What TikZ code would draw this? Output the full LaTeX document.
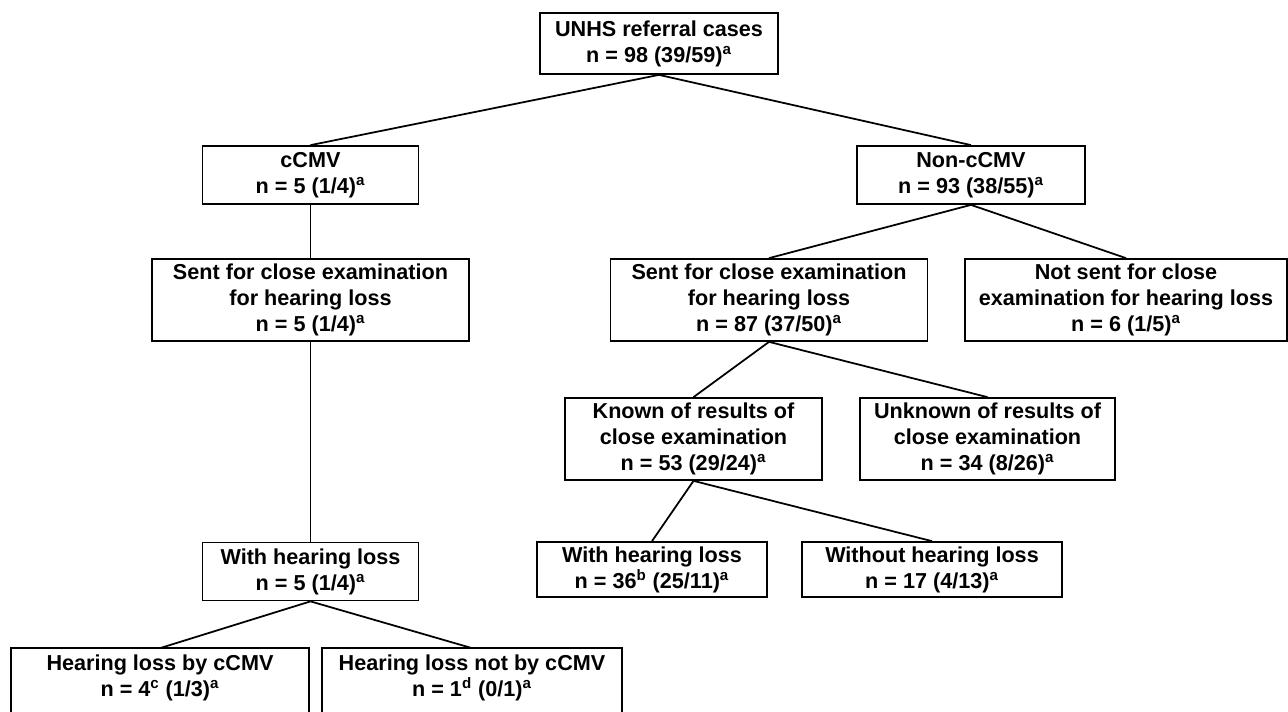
\documentclass[tikz,border=0pt]{standalone}
\usepackage{fontspec}
\setmainfont{Liberation Sans}
\usetikzlibrary{positioning}

\newcommand{\supnote}[1]{\textsuperscript{#1}}

\begin{document}
\begin{tikzpicture}[x=0.02cm, y=-0.02cm,
    box/.style={draw, line width=1pt, align=center, inner sep=0pt,
      font=\bfseries\fontsize{12.3}{14.8}\selectfont},
    leaf/.style={box, draw=none},
    link/.style={line width=1pt}]
    \clip (0,0) rectangle (1288,711);
    % top of the tree
    \node[box, minimum width=4.76cm, minimum height=1.22cm] (root) at (659,43.5)
        {UNHS referral cases\\ n = 98 (39/59)\supnote{a}};
    \node[box, minimum width=4.32cm, minimum height=1.16cm] (cmv) at (310.5,175)
        {cCMV\\ n = 5 (1/4)\supnote{a}};
    \node[box, minimum width=4.56cm, minimum height=1.16cm] (noncmv) at (971,175)
        {Non-cCMV\\ n = 93 (38/55)\supnote{a}};
    % close examination
    \node[box, minimum width=6.34cm, minimum height=1.64cm] (sentL) at (310.5,300)
        {Sent for close examination\\ for hearing loss\\ n = 5 (1/4)\supnote{a}};
    \node[box, minimum width=6.34cm, minimum height=1.64cm] (sentR) at (769,300)
        {Sent for close examination\\ for hearing loss\\ n = 87 (37/50)\supnote{a}};
    \node[box, minimum width=6.44cm, minimum height=1.64cm] (notsent) at (1126,300)
        {Not sent for close\\ examination for hearing loss\\ n = 6 (1/5)\supnote{a}};
    \node[box, minimum width=5.14cm, minimum height=1.64cm] (known) at (693.5,439)
        {Known of results of\\ close examination\\ n = 53 (29/24)\supnote{a}};
    \node[box, minimum width=5.10cm, minimum height=1.64cm] (unknown) at (987.5,439)
        {Unknown of results of\\ close examination\\ n = 34 (8/26)\supnote{a}};
    % hearing loss
    \node[box, minimum width=4.32cm, minimum height=1.16cm] (withL) at (310.5,571.5)
        {With hearing loss\\ n = 5 (1/4)\supnote{a}};
    \node[box, minimum width=4.60cm, minimum height=1.10cm] (withR) at (652,569.5)
        {With hearing loss\\ n = 36\supnote{b} (25/11)\supnote{a}};
    \node[box, minimum width=5.20cm, minimum height=1.10cm] (without) at (932,569.5)
        {Without hearing loss\\ n = 17 (4/13)\supnote{a}};
    \node[leaf, minimum width=5.94cm, minimum height=1.16cm] (bycmv) at (160,678)
        {Hearing loss by cCMV\\ n = 4\supnote{c} (1/3)\supnote{a}};
    \node[leaf, minimum width=5.96cm, minimum height=1.16cm] (notbycmv) at (472,678)
        {Hearing loss not by cCMV\\ n = 1\supnote{d} (0/1)\supnote{a}};
    \draw[link] (bycmv.north west) rectangle ([yshift=-1cm]bycmv.south east);
    \draw[link] (notbycmv.north west) rectangle ([yshift=-1cm]notbycmv.south east);
    % connectors
    \draw[link] (root.south) -- (cmv.north);
    \draw[link] (root.south) -- (noncmv.north);
    \draw[link] (cmv.south) -- (sentL.north);
    \draw[link] (noncmv.south) -- (sentR.north);
    \draw[link] (noncmv.south) -- (notsent.north);
    \draw[link] (sentL.south) -- (withL.north);
    \draw[link] (sentR.south) -- (known.north);
    \draw[link] (sentR.south) -- (unknown.north);
    \draw[link] (known.south) -- (withR.north);
    \draw[link] (known.south) -- (without.north);
    \draw[link] (withL.south) -- (bycmv.north);
    \draw[link] (withL.south) -- (notbycmv.north);
\end{tikzpicture}
\end{document}
